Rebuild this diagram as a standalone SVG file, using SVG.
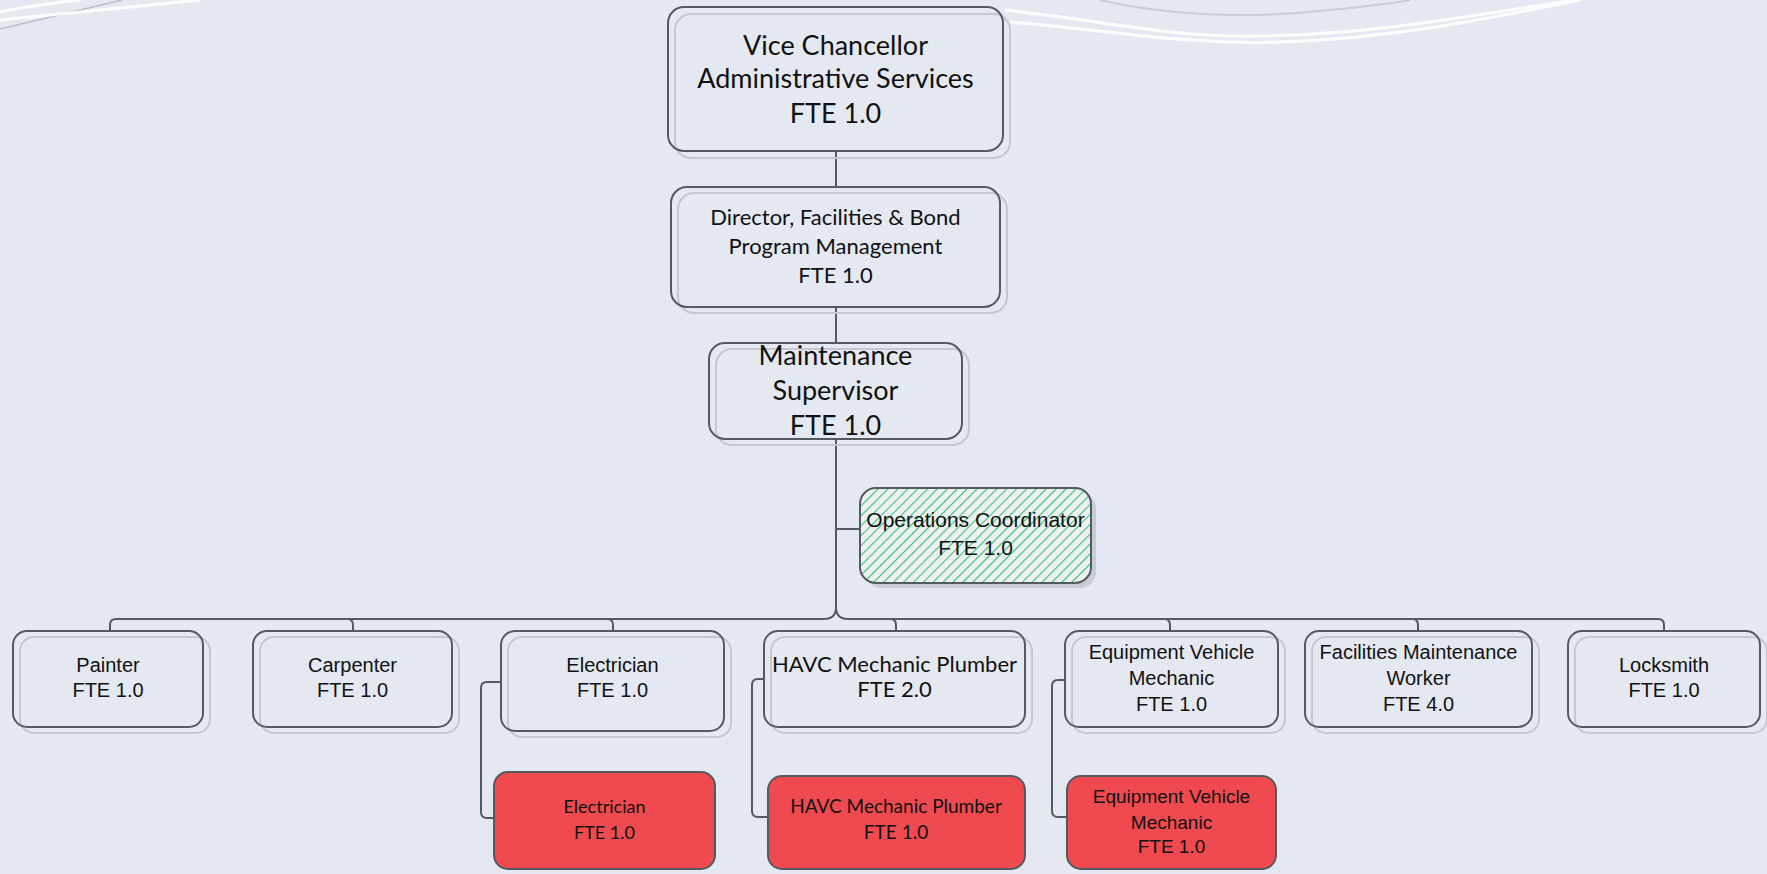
<svg xmlns="http://www.w3.org/2000/svg" width="1767" height="874" viewBox="0 0 1767 874">
<defs>
<style>
.box{fill:none;stroke:#555a61;stroke-width:2}
.sh{fill:none;stroke:#c5c7cc;stroke-width:2}
.red{fill:#ef4a50;stroke:#555a61;stroke-width:2}
.cal{font-family:Lato,"Open Sans",sans-serif;fill:#111;text-anchor:middle}
.ar{font-family:"Liberation Sans",Arial,sans-serif;fill:#111;text-anchor:middle}
.con{fill:none;stroke:#555a61;stroke-width:2}
.sw{fill:none;stroke:#ffffff;stroke-width:3;opacity:.9}
</style>
<pattern id="hatch" width="7" height="7" patternUnits="userSpaceOnUse" patternTransform="rotate(45)">
<rect width="7" height="7" fill="#eef0f2"/>
<line x1="0" y1="0" x2="0" y2="7" stroke="#34c26f" stroke-width="2.2"/>
</pattern>
</defs>
<rect width="1767" height="874" fill="#e4e8f0"/>
<g id="swooshes">
<path class="sw" d="M0,12 Q40,4 80,0"/>
<path d="M0,29 L122,0" fill="none" stroke="#b9bcc2" stroke-width="1.5"/>
<path class="sw" d="M0,20 L200,0" stroke-width="2"/>
<path class="sw" d="M1005,10 C1100,20 1170,38 1260,36 C1380,34 1480,14 1575,0"/>
<path class="sw" d="M1010,22 C1110,30 1180,45 1280,42 C1400,38 1500,16 1580,0" stroke-width="2"/>
<path d="M1100,0 C1160,14 1240,20 1330,10 C1370,6 1400,2 1410,0" fill="none" stroke="#c9ccd2" stroke-width="2"/>
</g>
<g id="connectors">
<path class="con" d="M836,152 V187"/>
<path class="con" d="M836,307 V343"/>
<path class="con" d="M836,439 V607 Q836,619 824,619 H116 Q110,619 110,625 V631"/>
<path class="con" d="M836,607 Q836,619 848,619 H1658 Q1664,619 1664,625 V631"/>
<path class="con" d="M836,529 H860"/>
<path class="con" d="M347,619 Q353,619 353,625 V631"/>
<path class="con" d="M607,619 Q613,619 613,625 V631"/>
<path class="con" d="M890,619 Q896,619 896,625 V631"/>
<path class="con" d="M1164,619 Q1170,619 1170,625 V631"/>
<path class="con" d="M1412,619 Q1418,619 1418,625 V631"/>
<path class="con" d="M501,682 H487 Q481,682 481,688 V812 Q481,818 487,818 H494"/>
<path class="con" d="M765,679 H758 Q752,679 752,685 V811 Q752,817 758,817 H768"/>
<path class="con" d="M1065,680 H1058 Q1052,680 1052,686 V811 Q1052,817 1058,817 H1067"/>
</g>
<g id="n-vc">
<rect class="sh" x="675" y="14" width="335" height="144" rx="16"/>
<rect class="box" x="668" y="7" width="335" height="144" rx="16"/>
<text class="cal" font-size="27"><tspan x="835.5" y="55">Vice Chancellor</tspan><tspan x="835.5" y="88">Administrative Services</tspan><tspan x="835.5" y="123">FTE 1.0</tspan></text>
</g>
<g id="n-dir">
<rect class="sh" x="678" y="193" width="329" height="120" rx="16"/>
<rect class="box" x="671" y="187" width="329" height="120" rx="16"/>
<text class="cal" font-size="22"><tspan x="835.5" y="225">Director, Facilities &amp; Bond</tspan><tspan x="835.5" y="254">Program Management</tspan><tspan x="835.5" y="283">FTE 1.0</tspan></text>
</g>
<g id="n-ms">
<rect class="sh" x="716" y="349" width="253" height="96" rx="16"/>
<rect class="box" x="709" y="343" width="253" height="96" rx="16"/>
<text class="cal" font-size="27"><tspan x="835.5" y="365">Maintenance</tspan><tspan x="835.5" y="400">Supervisor</tspan><tspan x="835.5" y="435">FTE 1.0</tspan></text>
</g>
<g id="n-ops">
<rect x="865" y="493" width="231" height="95" rx="16" fill="#c9ccd2"/>
<rect x="860" y="488" width="231" height="95" rx="16" fill="url(#hatch)" stroke="#555a61" stroke-width="2"/>
<text class="ar" font-size="21"><tspan x="975.5" y="527">Operations Coordinator</tspan><tspan x="975.5" y="555">FTE 1.0</tspan></text>
</g>
<g id="n-painter">
<rect class="sh" x="20" y="637" width="190" height="96" rx="14"/>
<rect class="box" x="13" y="631" width="190" height="96" rx="14"/>
<text class="ar" font-size="20"><tspan x="108" y="672">Painter</tspan><tspan x="108" y="697">FTE 1.0</tspan></text>
</g>
<g id="n-carpenter">
<rect class="sh" x="260" y="637" width="199" height="96" rx="14"/>
<rect class="box" x="253" y="631" width="199" height="96" rx="14"/>
<text class="ar" font-size="20"><tspan x="352.5" y="672">Carpenter</tspan><tspan x="352.5" y="697">FTE 1.0</tspan></text>
</g>
<g id="n-electrician">
<rect class="sh" x="508" y="637" width="223" height="100" rx="14"/>
<rect class="box" x="501" y="631" width="223" height="100" rx="14"/>
<text class="ar" font-size="20"><tspan x="612.5" y="672">Electrician</tspan><tspan x="612.5" y="697">FTE 1.0</tspan></text>
</g>
<g id="n-havc">
<rect class="sh" x="771" y="637" width="261" height="96" rx="14"/>
<rect class="box" x="764" y="631" width="261" height="96" rx="14"/>
<text class="cal" font-size="22"><tspan x="894.5" y="672">HAVC Mechanic Plumber</tspan><tspan x="894.5" y="697">FTE 2.0</tspan></text>
</g>
<g id="n-equip">
<rect class="sh" x="1072" y="637" width="213" height="96" rx="14"/>
<rect class="box" x="1065" y="631" width="213" height="96" rx="14"/>
<text class="ar" font-size="20"><tspan x="1171.5" y="659">Equipment Vehicle</tspan><tspan x="1171.5" y="685">Mechanic</tspan><tspan x="1171.5" y="711">FTE 1.0</tspan></text>
</g>
<g id="n-fmw">
<rect class="sh" x="1312" y="637" width="227" height="96" rx="14"/>
<rect class="box" x="1305" y="631" width="227" height="96" rx="14"/>
<text class="ar" font-size="20"><tspan x="1418.5" y="659">Facilities Maintenance</tspan><tspan x="1418.5" y="685">Worker</tspan><tspan x="1418.5" y="711">FTE 4.0</tspan></text>
</g>
<g id="n-lock">
<rect class="sh" x="1575" y="637" width="192" height="96" rx="14"/>
<rect class="box" x="1568" y="631" width="192" height="96" rx="14"/>
<text class="ar" font-size="20"><tspan x="1664" y="672">Locksmith</tspan><tspan x="1664" y="697">FTE 1.0</tspan></text>
</g>
<g id="n-elec-red">
<rect class="red" x="494" y="772" width="221" height="97" rx="14"/>
<text class="cal" font-size="18"><tspan x="604.5" y="813">Electrician</tspan><tspan x="604.5" y="839">FTE 1.0</tspan></text>
</g>
<g id="n-havc-red">
<rect class="red" x="768" y="776" width="257" height="93" rx="14"/>
<text class="cal" font-size="19"><tspan x="896" y="813">HAVC Mechanic Plumber</tspan><tspan x="896" y="839">FTE 1.0</tspan></text>
</g>
<g id="n-equip-red">
<rect class="red" x="1067" y="776" width="209" height="93" rx="14"/>
<text class="ar" font-size="19"><tspan x="1171.5" y="803">Equipment Vehicle</tspan><tspan x="1171.5" y="829">Mechanic</tspan><tspan x="1171.5" y="853">FTE 1.0</tspan></text>
</g>
</svg>
